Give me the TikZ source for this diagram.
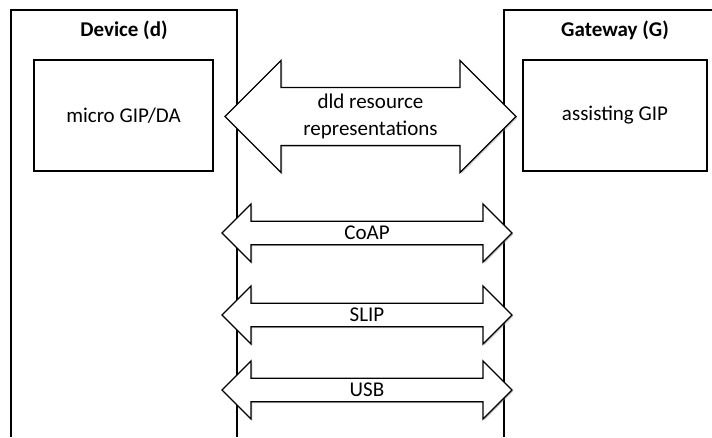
\documentclass[tikz,border=0pt]{standalone}
\usepackage{fontspec}
\setmainfont{Carlito}
\usetikzlibrary{shapes.arrows,shadows}

\tikzset{
  panel/.style={line width=1.6pt},
  title/.style={font=\fontsize{21}{26}\selectfont\bfseries},
  unit/.style={draw, line width=1.3pt, font=\fontsize{21}{26}\selectfont},
  link/.style={draw, fill=white, double arrow, double arrow tip angle=90,
    inner sep=0pt, line width=1.3pt, font=\fontsize{21}{27}\selectfont,
    drop shadow={shadow xshift=1.3pt, shadow yshift=-1.3pt, opacity=.45, fill=gray}},
}

\begin{document}
\begin{tikzpicture}[x=1pt,y=-1pt]
\useasboundingbox (0,0) rectangle (712,437);
% Drawing panels
\draw[panel] (11,437) -- (11,10) -- (237,10) -- (237,437);
\draw[panel] (504,437) -- (504,10) -- (712,10);
\node[title] (dev) at (124,30) {Device (d)};
\node[title] (gw) at (615,30) {Gateway (G)};
% Done with panels; drawing units
\node[unit, minimum width=179pt, minimum height=111pt] (gipda) at (123.5,115.5) {micro GIP/DA};
\node[unit, minimum width=184pt, minimum height=111pt] (agip) at (615,115.5) {assisting GIP};
% Done with units; drawing links
% Line 1: resource representations between the GIPs
\node[link, minimum height=291pt, minimum width=112pt, double arrow head extend=21.5pt,
  align=center] (rep) at (370.5,116.5) {dld resource\\representations};
% Line 2: CoAP
\node[link, minimum height=290pt, minimum width=58pt, double arrow head extend=11pt]
  (coap) at (367,233) {CoAP};
% Line 3: SLIP
\node[link, minimum height=290pt, minimum width=58pt, double arrow head extend=11pt]
  (slip) at (367,315) {SLIP};
% Line 4: USB
\node[link, minimum height=290pt, minimum width=58pt, double arrow head extend=11pt]
  (usb) at (367,390) {USB};
% Done with links
\end{tikzpicture}
\end{document}
